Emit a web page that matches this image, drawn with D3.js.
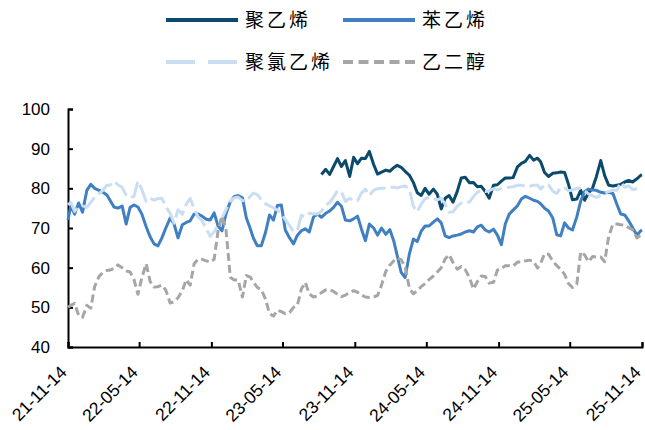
<!DOCTYPE html>
<html>
<head>
<meta charset="utf-8">
<script src="https://cdn.jsdelivr.net/npm/d3@7"></script>
<style>
  html, body { margin: 0; padding: 0; background: #fff; }
  svg { display: block; }
</style>
</head>
<body>
<svg id="chart" width="645" height="430"></svg>
<script>
// ---- data ----
const seriesNames = ["聚乙烯", "苯乙烯", "聚氯乙烯", "乙二醇"];

const dates = [
  "2021-11-14","2021-11-21",
  "2021-12-01","2021-12-11","2021-12-21",
  "2022-01-01","2022-01-11","2022-01-21",
  "2022-02-01","2022-02-11","2022-02-21",
  "2022-03-01","2022-03-11","2022-03-21",
  "2022-04-01","2022-04-11","2022-04-21",
  "2022-05-01","2022-05-11","2022-05-21",
  "2022-06-01","2022-06-11","2022-06-21",
  "2022-07-01","2022-07-11","2022-07-21",
  "2022-08-01","2022-08-11","2022-08-21",
  "2022-09-01","2022-09-11","2022-09-21",
  "2022-10-01","2022-10-11","2022-10-21",
  "2022-11-01","2022-11-11","2022-11-21",
  "2022-12-01","2022-12-11","2022-12-21",
  "2023-01-01","2023-01-11","2023-01-21",
  "2023-02-01","2023-02-11","2023-02-21",
  "2023-03-01","2023-03-11","2023-03-21",
  "2023-04-01","2023-04-11","2023-04-21",
  "2023-05-01","2023-05-11","2023-05-21",
  "2023-06-01","2023-06-11","2023-06-21",
  "2023-07-01","2023-07-11","2023-07-21",
  "2023-08-01","2023-08-11","2023-08-21",
  "2023-09-01","2023-09-11","2023-09-21",
  "2023-10-01","2023-10-11","2023-10-21",
  "2023-11-01","2023-11-11","2023-11-21",
  "2023-12-01","2023-12-11","2023-12-21",
  "2024-01-01","2024-01-11","2024-01-21",
  "2024-02-01","2024-02-11","2024-02-21",
  "2024-03-01","2024-03-11","2024-03-21",
  "2024-04-01","2024-04-11","2024-04-21",
  "2024-05-01","2024-05-11","2024-05-21",
  "2024-06-01","2024-06-11","2024-06-21",
  "2024-07-01","2024-07-11","2024-07-21",
  "2024-08-01","2024-08-11","2024-08-21",
  "2024-09-01","2024-09-11","2024-09-21",
  "2024-10-01","2024-10-11","2024-10-21",
  "2024-11-01","2024-11-11","2024-11-21",
  "2024-12-01","2024-12-11","2024-12-21",
  "2025-01-01","2025-01-11","2025-01-21",
  "2025-02-01","2025-02-11","2025-02-21",
  "2025-03-01","2025-03-11","2025-03-21",
  "2025-04-01","2025-04-11","2025-04-21",
  "2025-05-01","2025-05-11","2025-05-21",
  "2025-06-01","2025-06-11","2025-06-21",
  "2025-07-01","2025-07-11","2025-07-21",
  "2025-08-01","2025-08-11","2025-08-21",
  "2025-09-01","2025-09-11","2025-09-21",
  "2025-10-01","2025-10-11","2025-10-21",
  "2025-11-01","2025-11-11","2025-11-14"
];

// 聚乙烯 (starts Aug 2023)
const polyethylene = [
  null,null,
  null,null,null, null,null,null, null,null,null, null,null,null,
  null,null,null, null,null,null, null,null,null, null,null,null,
  null,null,null, null,null,null, null,null,null, null,null,null,
  null,null,null, null,null,null, null,null,null, null,null,null,
  null,null,null, null,null,null, null,null,null, null,null,null,
  null,null,83.5,
  84.8,83.5,85.5, 87.5,85.5,87, 83,87.8,86.2, 87.6,87.5,89.3,
  86,83.6,84.1, 84.6,84.3,85.2, 85.8,85.3,84.3, 83.3,81.5,78.9,
  78.2,80,78.5, 79.8,78.5,74.8, 77.5,78.2,76.5, 79.3,82.6,82.8,
  81.4,81.5,80.4, 80.5,79.2,77.5, 80.8,80.9,81.8, 82.6,82.6,82.7,
  85.4,86.3,86.8, 88.3,87.1,87.6, 86.7,84,83, 83.8,83.9,84.1,
  84,81,77.1, 77.3,79.5,77, 78.9,80,83, 87,83.2,80.8,
  80.6,80.8,81, 81.6,82,81.6, 82.4,83.3,83.4
];

// 苯乙烯
const styrene = [
  72,75.5,
  73.5,76.3,74, 79.5,81,80, 79.5,79,78.3, 77,75.3,75,
  75.5,71,75.2, 75.8,75.3,73.5, 70.3,67.8,66, 65.5,67.5,70,
  72.5,71,67.5, 70.8,71.4,71.8, 73.5,73.5,73, 72.2,72,73.8,
  70.5,69.3,73.5, 76.6,77.9,78.2, 77.6,72.5,69.8, 67.4,65.5,65.5,
  69,73.3,72, 75.7,75.8,69.5, 67.5,66,68.2, 69.3,69.8,69,
  72.8,73.5,72.7,
  73.7,74.3,75.2, 76.5,75.5,72, 71.8,72.3,73, 69.7,66.8,71,
  70,68.2,70, 68.4,69.6,66.8, 63,58.8,57.5, 63.5,67.2,66.6,
  69.2,70.5,70.5, 71.5,72.3,71.3, 68,67.6,68, 68.2,68.5,69,
  69.3,69,70.3, 70.7,69.5,69, 69.7,68.2,65.8, 71,73.5,74.5,
  75.6,77.3,78, 77.5,77,76.7, 76.1,75,74.3, 72.5,68.3,68,
  71.3,70,69.5, 72.8,76.8,79.2, 79.8,79.6,79.5, 79,78.8,79,
  78.7,76,73.5, 73.3,71.8,70.1, 68.2,69.3,69.5
];

// 聚氯乙烯
const pvc = [
  75.8,76.5,
  74.2,75.3,75.6, 75.2,76.5,77.8, 78.7,79.5,80.8, 80.8,81.8,80.9,
  80.2,78.3,77.6, 78,81.8,79.7, 76.7,77.5,77, 77.4,77.5,75.4,
  73.7,71.2,74.6, 73.5,76,77.5, 74.9,72.8,71.9, 69.8,67.9,69,
  70.9,72.5,74.6, 76.8,77.6,77.8, 76.9,76.8,78, 78.8,78.4,77.1,
  76.1,75.6,75.1, 74.5,73.6,72.1, 70.6,69.1,69.5, 73.2,72.8,73.7,
  73.6,73.5,74.2,
  75.8,76.4,77.8, 79.4,79.1,76.7, 77.5,76.9,76.9, 78.8,79.8,78.2,
  79.5,79.9,80, 80.1,80.3,80.3, 80.1,80.4,80.6, 79.8,75.5,74.1,
  76,77.4,77.7, 77.4,77.1,77.5, 76,74,74.1, 75.5,76.3,76.2,
  76.6,77.9,79, 79.5,79.2,79.4, 79.9,79.6,79.9, 80.2,80.3,80.4,
  80.8,80.8,80.5, 80.5,80.8,80.8, 79.8,80.9,80.9, 79.3,78.7,80.2,
  80.1,79.4,79.6, 80,80,79.3, 78.6,78.1,77.7, 78.3,78.7,79.2,
  79.5,79.5,81.5, 80.3,80.6,79.7, 79.9,79.6,79.6
];

// 乙二醇
const meg = [
  50,50.5,
  51,48,47.5, 50.5,49.8,55.3, 57.8,58.8,59.3, 59.4,59.8,60.7,
  60,59.2,58.9, 57,53.3,57.5, 61,56.5,55.1, 55.2,55.6,54.3,
  51.1,51.4,52.4, 54.2,57,55.6, 61,62.1,62.1, 61.7,61.4,62.1,
  69.3,73,69.8, 57.6,56.9,56.9, 52.6,58,57.6, 56.4,55,54.5,
  52,48.4,47.8, 49.3,48.9,48.4, 48.7,50,50.6, 54.6,56.3,53.4,
  52.6,52.9,53.7,
  54.4,54.4,54, 53.3,52.7,53.1, 53.7,54.2,53.8, 53.1,52.6,52.5,
  52.6,53,55.6, 59.1,60.6,61.7, 62.4,62,60.3, 54.8,53.4,54.2,
  55.2,56,57, 57.9,58.9,60, 62.2,63.3,61.3, 59.6,60.3,59.5,
  57.5,54.6,56.5, 57.9,57.8,56.1, 56.3,59.4,59.8, 60.5,60.5,60.4,
  61.4,61.4,61.7, 61.9,61.6,59.9, 61.1,63.5,63.4, 61.7,60.5,59.6,
  58.3,56,55, 55.8,64,63.2, 61.5,62.8,62.7, 62.7,61.5,67.8,
  71,71,70.8, 70.7,70.1,69.6, 67.5,68.2,68.2
];

const yTicks = [40, 50, 60, 70, 80, 90, 100];
const xTickDates = ["2021-11-14","2022-05-14","2022-11-14","2023-05-14","2023-11-14",
                    "2024-05-14","2024-11-14","2025-05-14","2025-11-14"];
const xTickLabels = ["21-11-14","22-05-14","22-11-14","23-05-14","23-11-14",
                     "24-05-14","24-11-14","25-05-14","25-11-14"];

// ---- drawing ----
const svg = d3.select("#chart");
const parse = d3.timeParse("%Y-%m-%d");
const X0 = 68, X1 = 642, Y0 = 347, Y1 = 109;

const x = d3.scaleTime()
  .domain([parse(dates[0]), parse(dates[dates.length - 1])])
  .range([X0, X1]);
const y = d3.scaleLinear().domain([40, 100]).range([Y0, Y1]);

const colors = ["#0b4a6c", "#3f7fc2", "#c9def2", "#a6a6a6"];
const dashes = [null, null, "18,5", "8,4"];
const legendDashes = [null, null, "29,13", "10,5.5"];
const seriesValues = [polyethylene, styrene, pvc, meg];

// axes
const yAxis = d3.axisLeft(y).tickValues(yTicks).tickSize(-5).tickPadding(18);
const gy = svg.append("g").attr("transform", `translate(${X0},0)`).call(yAxis);
gy.select(".domain").attr("stroke", "#000").attr("stroke-width", 2);
gy.selectAll(".tick line").attr("stroke", "#000").attr("stroke-width", 2);
gy.selectAll(".tick text")
  .attr("font-family", "'Liberation Sans', Arial, sans-serif")
  .attr("font-size", 17).attr("fill", "#000");

const xAxis = d3.axisBottom(x).tickValues(xTickDates.map(parse)).tickSize(-5)
  .tickFormat((d, i) => xTickLabels[i]);
const gx = svg.append("g").attr("transform", `translate(0,${Y0})`).call(xAxis);
gx.select(".domain").attr("stroke", "#000").attr("stroke-width", 2);
gx.selectAll(".tick line").attr("stroke", "#000").attr("stroke-width", 2);
gx.selectAll(".tick text")
  .attr("font-family", "'Liberation Sans', Arial, sans-serif")
  .attr("font-size", 17.5).attr("fill", "#000")
  .attr("text-anchor", "end")
  .attr("y", 0).attr("dy", "0.35em")
  .attr("transform", "translate(-5,22) rotate(-45)");

// lines
const line = d3.line()
  .defined(d => d.v != null)
  .x(d => x(d.date))
  .y(d => y(d.v));

seriesValues.forEach((vals, s) => {
  const pts = dates.map((ds, i) => ({ date: parse(ds), v: vals[i] }));
  svg.append("path")
    .datum(pts)
    .attr("fill", "none")
    .attr("stroke", colors[s])
    .attr("stroke-width", 3)
    .attr("stroke-linejoin", "round")
    .attr("stroke-dasharray", dashes[s])
    .attr("d", line);
});

// legend
const legendPos = [
  { lx: 166, ty: 20 }, { lx: 343, ty: 20 },
  { lx: 166, ty: 62 }, { lx: 343, ty: 62 }
];
seriesNames.forEach((name, s) => {
  const p = legendPos[s];
  svg.append("line")
    .attr("x1", p.lx).attr("x2", p.lx + 72)
    .attr("y1", p.ty).attr("y2", p.ty)
    .attr("stroke", colors[s]).attr("stroke-width", 4)
    .attr("stroke-dasharray", legendDashes[s]);
  svg.append("text")
    .attr("x", p.lx + 79).attr("y", p.ty).attr("dy", "0.36em")
    .attr("font-family", "'Noto Sans CJK SC', 'Noto Sans CJK TC', sans-serif")
    .attr("font-size", 19).attr("letter-spacing", 3)
    .attr("fill", "#000")
    .text(name);
});
</script>
</body>
</html>
